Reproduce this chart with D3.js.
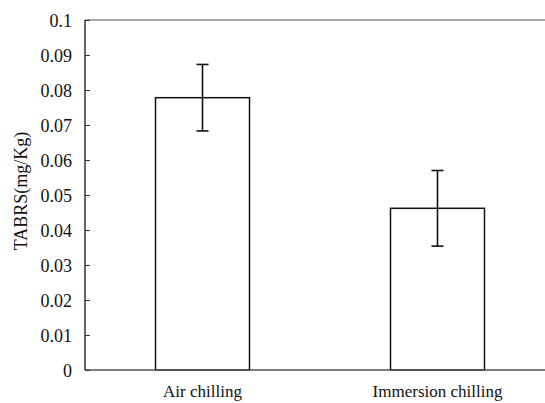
<!DOCTYPE html>
<html><head><meta charset="utf-8">
<script src="https://cdn.jsdelivr.net/npm/d3@7"></script>
<style>html,body{margin:0;padding:0;background:#fff;overflow:hidden}
svg text{font-family:"Liberation Serif","Times New Roman",serif;fill:#111}</style>
</head><body>
<svg id="c" width="545" height="403"></svg>
<script>
const categories = ["Air chilling", "Immersion chilling"];
const values = [0.0778, 0.0462];
const errors = [0.0095, 0.0108];
const yTicks = [0, 0.01, 0.02, 0.03, 0.04, 0.05, 0.06, 0.07, 0.08, 0.09, 0.1];
const yLabel = "TABRS(mg/Kg)";

const svg = d3.select("#c");
const mLeft = 85, mTop = 20, mBottom = 370, mRight = 555;

const x = d3.scaleBand().domain(categories).range([mLeft, mRight]).paddingInner(0.6).paddingOuter(0.3);
const y = d3.scaleLinear().domain([0, 0.1]).range([mBottom, mTop]);

// top border
svg.append("line").attr("x1", mLeft).attr("x2", mRight).attr("y1", y(0.1)).attr("y2", y(0.1))
  .attr("stroke", "#888").attr("stroke-width", 1.5);

// bars
svg.selectAll("rect.bar").data(categories).enter().append("rect")
  .attr("x", d => x(d)).attr("width", x.bandwidth())
  .attr("y", (d, i) => y(values[i])).attr("height", (d, i) => mBottom - y(values[i]))
  .attr("fill", "#fff").attr("stroke", "#111").attr("stroke-width", 1.5);

// error bars
categories.forEach((c, i) => {
  const cx = x(c) + x.bandwidth() / 2;
  const g = svg.append("g").attr("stroke", "#111").attr("stroke-width", 1.6);
  g.append("line").attr("x1", cx).attr("x2", cx).attr("y1", y(values[i] + errors[i])).attr("y2", y(values[i] - errors[i]));
  g.append("line").attr("x1", cx - 6).attr("x2", cx + 6).attr("y1", y(values[i] + errors[i])).attr("y2", y(values[i] + errors[i]));
  g.append("line").attr("x1", cx - 6).attr("x2", cx + 6).attr("y1", y(values[i] - errors[i])).attr("y2", y(values[i] - errors[i]));
});

// x axis line
svg.append("line").attr("x1", mLeft).attr("x2", mRight).attr("y1", mBottom).attr("y2", mBottom)
  .attr("stroke", "#555").attr("stroke-width", 1.5);

// y axis
const yAxis = d3.axisRight(y).tickValues(yTicks).tickSize(5).tickFormat(d => d3.format("~g")(+d.toFixed(2)));
const ya = svg.append("g").attr("transform", `translate(${mLeft},0)`).call(yAxis);
ya.attr("font-family", null).attr("font-size", null);
ya.select(".domain").attr("stroke", "#333").attr("stroke-width", 1.5).attr("d", `M0,${mTop}V${mBottom}`);
ya.selectAll(".tick line").attr("stroke", "#333").attr("stroke-width", 1);
ya.selectAll(".tick text").attr("x", -13).attr("dy", "0.34em").attr("text-anchor", "end")
  .attr("font-size", 18);

// x labels
svg.selectAll("text.xl").data(categories).enter().append("text")
  .attr("x", d => x(d) + x.bandwidth() / 2).attr("y", 397).attr("text-anchor", "middle")
  .attr("font-size", 17).text(d => d);

// y label
svg.append("text").attr("transform", `translate(27,191) rotate(-90)`)
  .attr("text-anchor", "middle").attr("font-size", 18).text(yLabel);
</script>
</body></html>
